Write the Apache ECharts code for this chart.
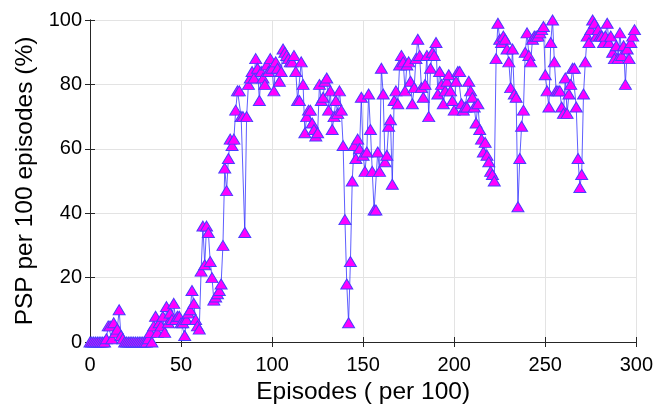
<!DOCTYPE html>
<html>
<head>
<meta charset="utf-8">
<script src="https://cdn.jsdelivr.net/npm/echarts@6/dist/echarts.min.js"></script>
<style>html,body{margin:0;padding:0;background:#fff}#c{width:656px;height:410px}</style>
</head>
<body>
<div id="c"></div>
<script>
// PSP per 100 episodes (%) for episodes 0..299
const psp = [
  0,0,0,0,0,0,0,0,0,1,
  5,5,1,6,3,4,10,2,1,0,
  0,0,0,0,0,0,0,0,0,0,
  0,0,1,3,0,5,8,3,6,5,
  8,3,11,6,9,7,12,7,8,8,
  6,6,2,7,9,10,16,12,7,5,
  4,22,36,24,36,34,25,20,13,14,
  15,16,18,30,54,47,57,63,61,63,
  72,78,78,70,70,34,70,80,82,84,
  82,88,85,75,84,82,80,86,84,88,
  85,78,87,85,81,84,91,90,89,88,
  87,87,89,84,75,75,87,80,65,70,
  72,72,68,66,64,65,80,75,76,81,
  82,72,78,66,70,75,71,78,72,61,
  38,18,6,25,50,61,57,63,60,76,
  58,53,59,77,66,53,41,41,59,53,
  85,77,56,58,67,69,49,75,78,74,
  86,89,87,78,86,87,81,74,79,88,
  94,89,79,76,80,89,70,85,90,89,
  93,77,84,80,74,78,81,83,78,75,
  72,81,84,84,74,72,73,73,81,78,
  76,73,68,74,66,63,59,62,58,56,
  53,52,50,88,99,94,93,95,94,91,
  87,79,91,77,76,42,57,67,72,90,
  96,89,87,94,95,95,95,96,97,98,
  83,78,73,93,100,87,78,78,78,73,
  71,82,71,77,80,85,85,73,57,48,
  52,77,87,95,93,97,100,99,95,97,
  95,95,93,95,99,93,95,90,88,92,
  88,96,89,92,80,91,88,93,95,97
];
const xTicks = [0, 50, 100, 150, 200, 250, 300];
const yTicks = [0, 20, 40, 60, 80, 100];
const xTitle = 'Episodes ( per 100)';
const yTitle = 'PSP per 100 episodes (%)';

const seriesData = psp.map((v, i) => [i, v]);
const font = '"Liberation Sans", Arial, sans-serif';
const axisCol = '#262626';
const gridCol = '#e3e3e3';

function makeAxis(pos, isX, show) {
  const ticks = isX ? xTicks : yTicks;
  return {
    type: 'value', position: pos,
    min: ticks[0], max: ticks[ticks.length - 1], interval: ticks[1] - ticks[0],
    axisLine: { show: true, lineStyle: { color: axisCol, width: 1 } },
    axisTick: { show: true, inside: true, length: 5, lineStyle: { color: axisCol } },
    axisLabel: { show: show, color: '#000', fontSize: 20, fontFamily: font, margin: isX ? 13 : 8 },
    splitLine: { show: show, lineStyle: { color: gridCol, width: 1 } },
    name: show ? (isX ? xTitle : yTitle) : '',
    nameLocation: 'middle',
    nameGap: isX ? 31 : 46,
    nameTextStyle: { color: '#000', fontSize: 24.5, fontFamily: font }
  };
}

const chart = echarts.init(document.getElementById('c'), null, { renderer: 'canvas' });
chart.setOption({
  animation: false,
  backgroundColor: '#fff',
  grid: { left: 90, right: 18, top: 20, bottom: 68, containLabel: false },
  xAxis: [makeAxis('bottom', true, true), makeAxis('top', true, false)],
  yAxis: [makeAxis('left', false, true), makeAxis('right', false, false)],
  series: [{
    type: 'line',
    data: seriesData,
    xAxisIndex: 0, yAxisIndex: 0,
    symbol: 'triangle',
    symbolSize: [12, 10],
    showAllSymbol: true,
    lineStyle: { color: 'rgba(40,40,255,0.75)', width: 1 },
    itemStyle: { color: '#ff00ff', borderColor: '#4b3cff', borderWidth: 1 },
    clip: false
  }]
});
</script>
</body>
</html>
